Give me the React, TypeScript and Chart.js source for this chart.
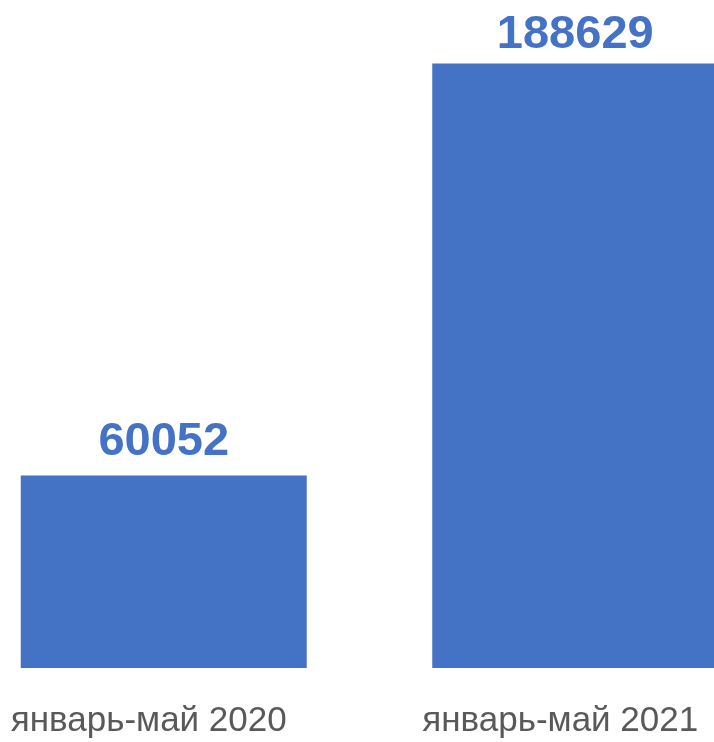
import React, { useEffect, useRef } from "react";
import { Chart, registerables } from "chart.js";

Chart.register(...registerables);

const categories: string[] = ["январь-май 2020", "январь-май 2021"];
const values: number[] = [60052, 188629];

const BAR_COLOR = "#4472C4";
const LABEL_GAPS = [21, 15];

const valueLabelPlugin = {
  id: "valueLabels",
  afterDatasetsDraw(chart: any) {
    const ctx = chart.ctx;
    const meta = chart.getDatasetMeta(0);
    ctx.save();
    ctx.font = "bold 47px 'Liberation Sans', Arial, sans-serif";
    ctx.fillStyle = BAR_COLOR;
    ctx.textAlign = "center";
    ctx.textBaseline = "alphabetic";
    meta.data.forEach((bar: any, i: number) => {
      const v = chart.data.datasets[0].data[i];
      ctx.fillText(String(v), bar.x, bar.y - LABEL_GAPS[i]);
    });
    ctx.restore();
  },
};

export default function App() {
  const ref = useRef<HTMLCanvasElement | null>(null);
  useEffect(() => {
    if (!ref.current) return;
    const chart = new Chart(ref.current, {
      type: "bar",
      data: {
        labels: categories,
        datasets: [
          {
            data: values,
            backgroundColor: BAR_COLOR,
            borderWidth: 0,
            categoryPercentage: 1,
            barPercentage: 0.695,
          },
        ],
      },
      options: {
        responsive: false,
        animation: false,
        devicePixelRatio: 1,
        layout: { padding: { top: 27, bottom: 1, left: 0, right: 0 } },
        plugins: {
          legend: { display: false },
          tooltip: { enabled: false },
          title: { display: false },
        },
        scales: {
          x: {
            grid: { display: false, drawTicks: false },
            border: { display: false },
            ticks: {
              color: "#595959",
              font: { family: "'Liberation Sans', Arial, sans-serif", size: 35 },
              padding: 32,
              labelOffset: -15,
              maxRotation: 0,
              autoSkip: false,
            },
          },
          y: {
            display: false,
            min: 0,
            max: 200000,
          },
        },
      },
      plugins: [valueLabelPlugin],
    });
    return () => chart.destroy();
  }, []);
  return (
    <div
      style={{
        position: "absolute",
        left: 0,
        top: 0,
        width: 714,
        height: 742,
        overflow: "hidden",
        background: "#ffffff",
      }}
    >
      <canvas
        ref={ref}
        width={823}
        height={775}
        style={{ position: "absolute", left: -42, top: 0, width: 823, height: 775 }}
      />
    </div>
  );
}
